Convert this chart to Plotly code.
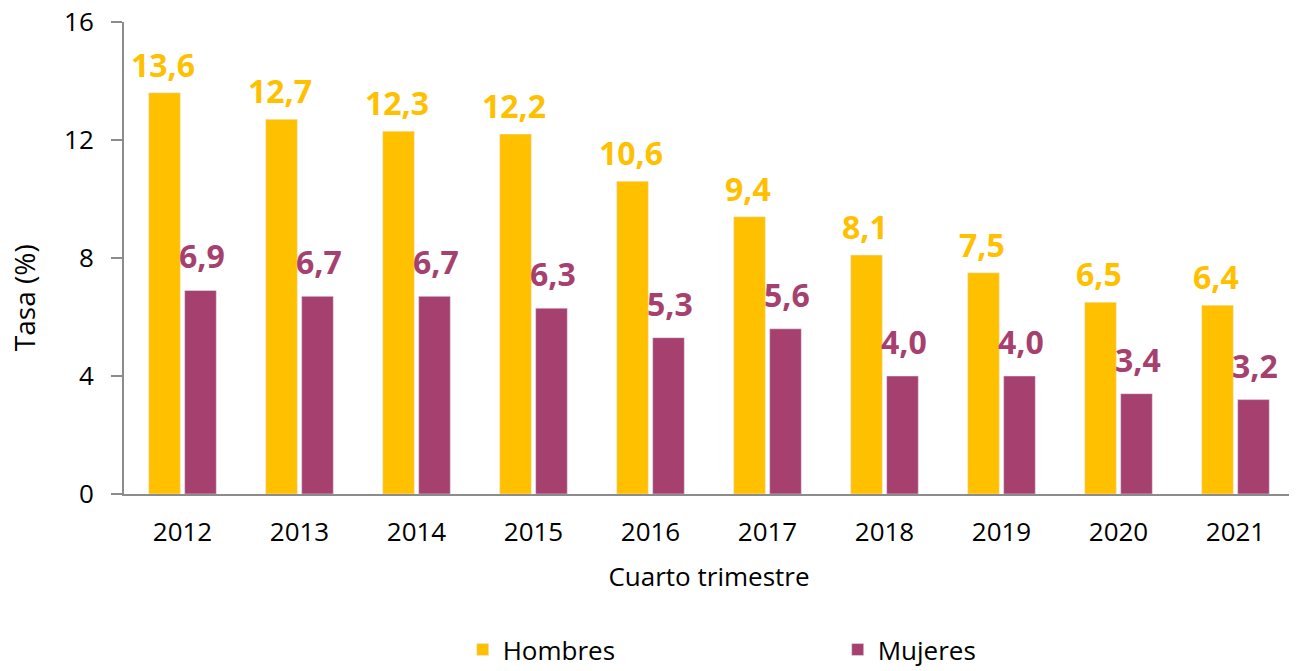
import plotly.graph_objects as go

years = ["2012", "2013", "2014", "2015", "2016", "2017", "2018", "2019", "2020", "2021"]
hombres = [13.6, 12.7, 12.3, 12.2, 10.6, 9.4, 8.1, 7.5, 6.5, 6.4]
mujeres = [6.9, 6.7, 6.7, 6.3, 5.3, 5.6, 4.0, 4.0, 3.4, 3.2]
y_ticks = [0, 4, 8, 12, 16]

C_H = "#FFC000"
C_M = "#A6416F"
FONT = "Segoe UI, Open Sans, Noto Sans, sans-serif"

def lab(v):
    return [f"{x:.1f}".replace(".", ",") for x in v]

fig = go.Figure()
fig.add_trace(go.Bar(name="Hombres", x=years, y=hombres, marker_color=C_H))
fig.add_trace(go.Bar(name="Mujeres", x=years, y=mujeres, marker_color=C_M))

annotations = []
for series, color, shift_x, shift_y in ((hombres, C_H, -19.5, 5), (mujeres, C_M, 19.5, 11)):
    for i, (v, t) in enumerate(zip(series, lab(series))):
        # x given as the category index on the category axis
        annotations.append(dict(
            x=i, y=v, xref="x", yref="y", text=t, showarrow=False,
            xanchor="center", yanchor="bottom", xshift=shift_x, yshift=shift_y,
            font=dict(family=FONT, size=32, color=color, weight="bold"),
        ))

annotations.append(dict(
    x=-0.0855, y=0.417, xref="paper", yref="paper", text="Tasa (%)",
    textangle=-90, showarrow=False, xanchor="center", yanchor="middle",
    font=dict(family=FONT, size=28, color="#000000"),
))

# the page body has an 8px margin, so the figure is offset by 8px right and down
fig.update_layout(
    width=1289, height=663,
    margin=dict(l=116, r=3, t=14, b=177, autoexpand=False),
    paper_bgcolor="white", plot_bgcolor="white",
    barmode="group", bargap=0.385, bargroupgap=0.12,
    font=dict(family=FONT, size=26, color="#000000"),
    showlegend=True,
    annotations=annotations,
    legend=dict(
        orientation="h", x=0.61, xanchor="center", y=-0.28, yanchor="top",
        entrywidth=330, font=dict(size=26, color="#000000"),
    ),
    xaxis=dict(
        type="category", range=[-0.5, 9.5],
        showline=True, linecolor="#8C8C8C", linewidth=2, automargin=False,
        ticks="", showgrid=False, tickfont=dict(size=26),
        ticklabelstandoff=14,
        title=dict(text="Cuarto trimestre", font=dict(size=26), standoff=20),
    ),
    yaxis=dict(
        range=[0, 16], tickvals=y_ticks, showline=True, linecolor="#8C8C8C",
        linewidth=2, ticks="outside", ticklen=11, tickcolor="#8C8C8C",
        tickwidth=2, showgrid=False, zeroline=False, tickfont=dict(size=26),
        ticklabelstandoff=12, ticklabeloverflow="allow", automargin=False,
    ),
)

fig.write_html("out.html")
